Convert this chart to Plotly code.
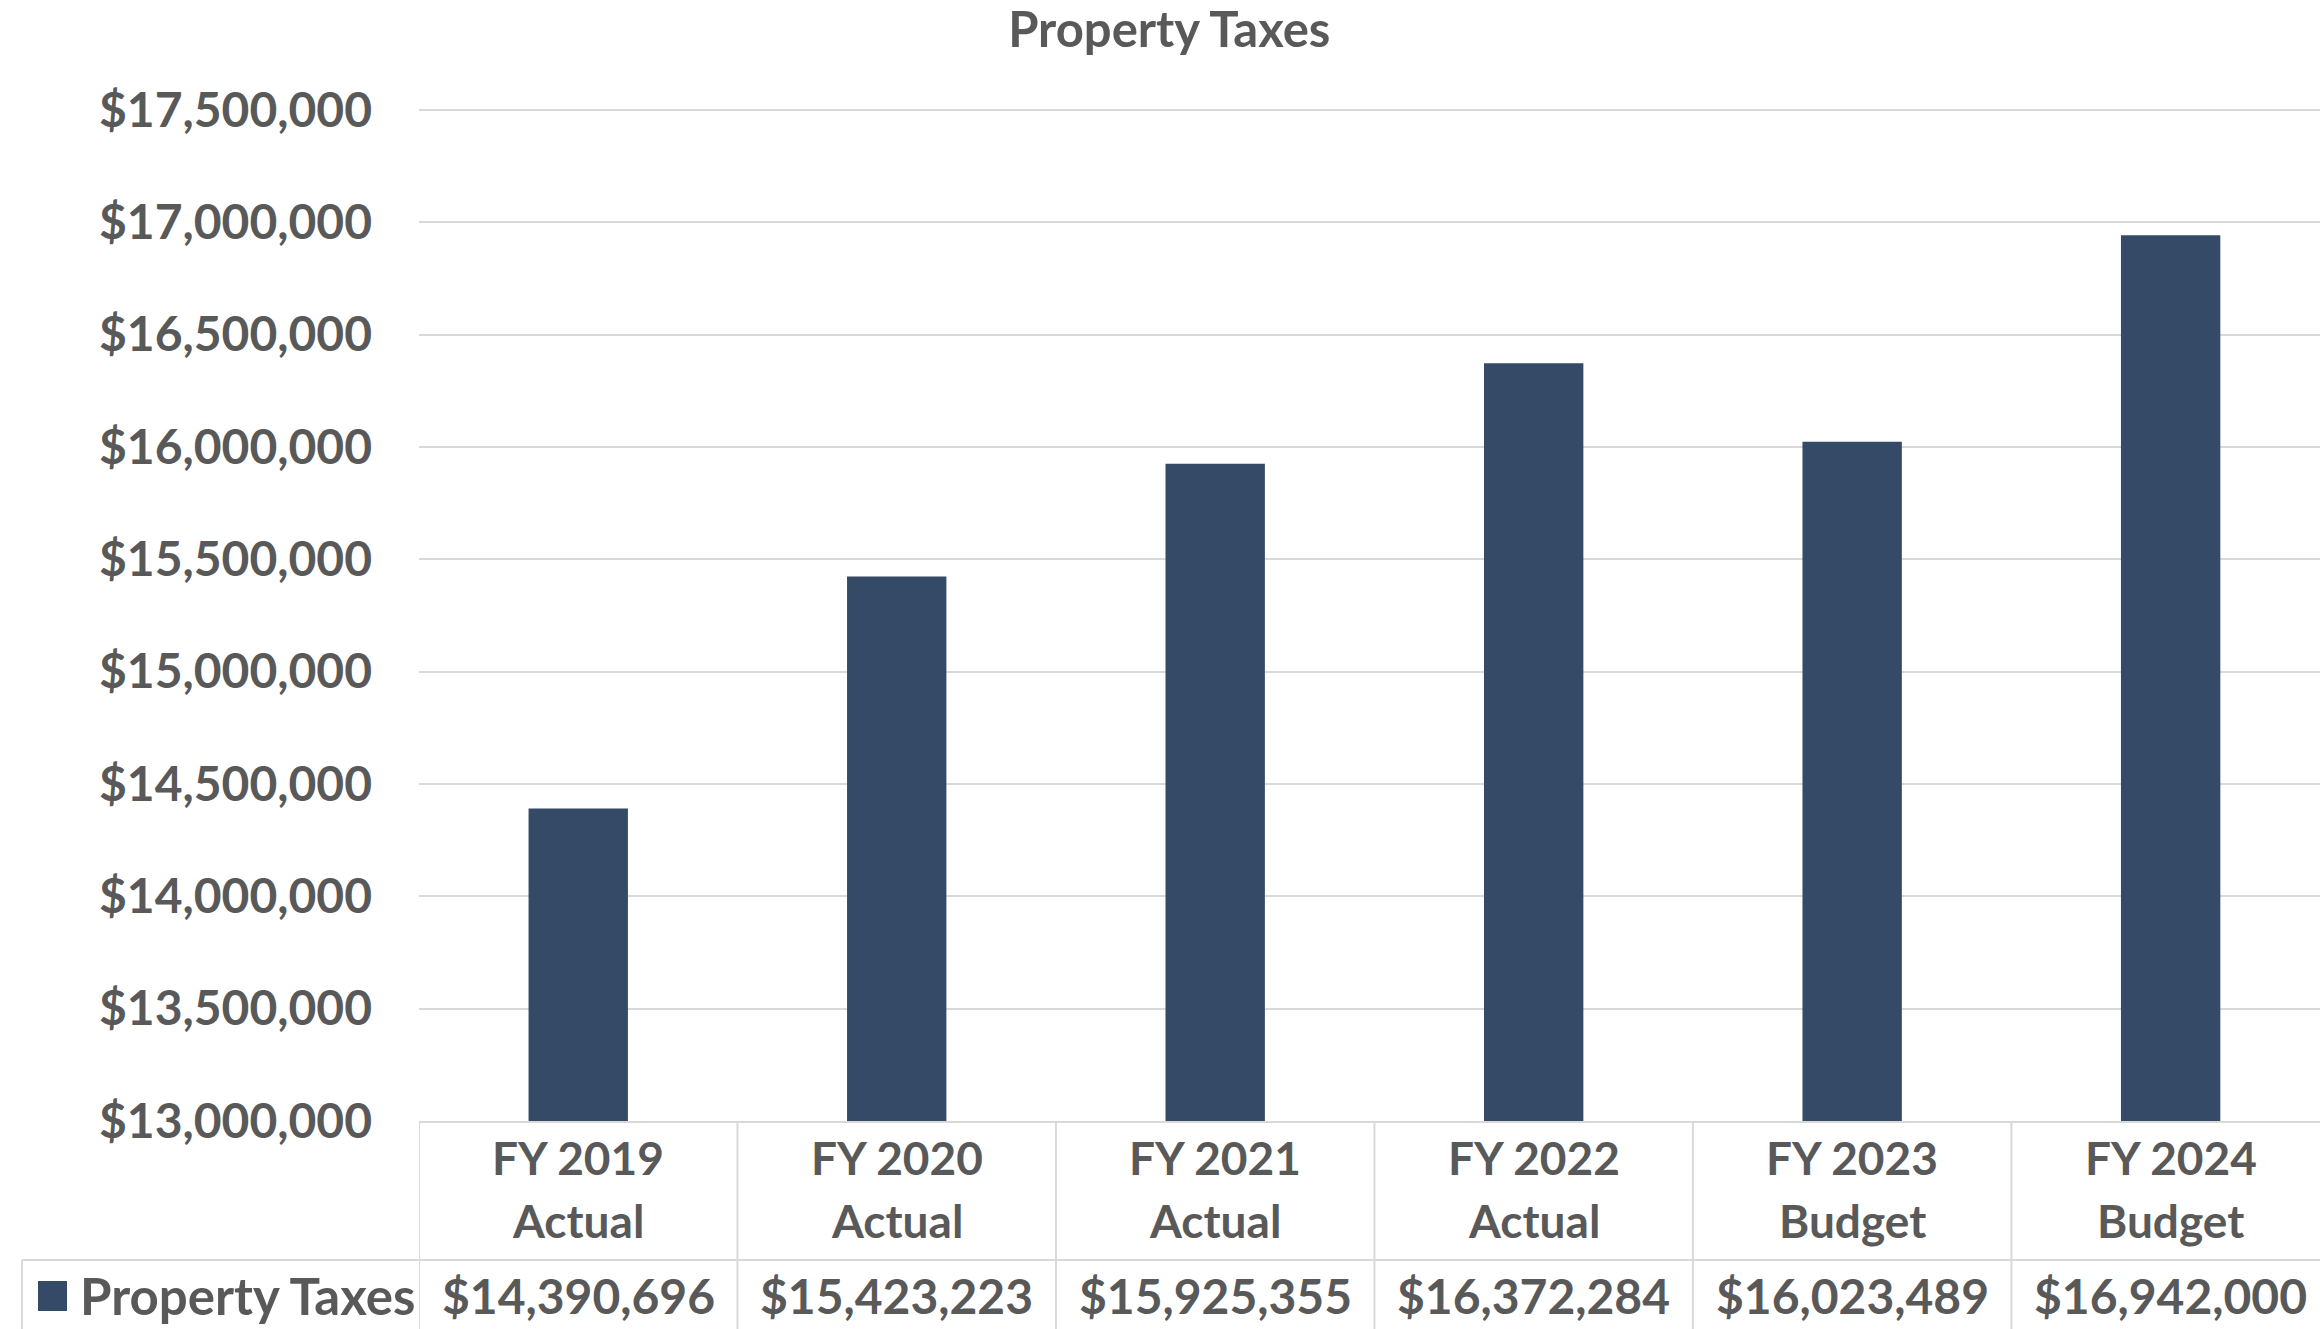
import plotly.graph_objects as go

categories = ["FY 2019<br>Actual", "FY 2020<br>Actual", "FY 2021<br>Actual",
              "FY 2022<br>Actual", "FY 2023<br>Budget", "FY 2024<br>Budget"]
values = [14390696, 15423223, 15925355, 16372284, 16023489, 16942000]
series_name = "Property Taxes"
title = "Property Taxes"
y_ticks = [13000000, 13500000, 14000000, 14500000, 15000000,
           15500000, 16000000, 16500000, 17000000, 17500000]

W, H = 2320, 1329
TXT = "#595959"
BAR = "#344A66"
GRID = "#D9D9D9"
FONT = "Lato"

def py(px):
    return 1 - px / H

x_pos = list(range(len(categories)))

# 13M at px 1121, 17.5M at px 110 -> px per unit
ppu = (1121 - 110) / 4500000
y_top = 17520000
top_px = 1121 - (y_top - 13000000) * ppu

fig = go.Figure()
fig.add_trace(go.Bar(x=x_pos, y=values, width=0.312, marker=dict(color=BAR, line=dict(width=0)),
                     name=series_name, showlegend=False))

fig.update_layout(
    template="none",
    width=W, height=H,
    margin=dict(l=0, r=0, t=0, b=0, pad=0),
    plot_bgcolor="white", paper_bgcolor="white",
    showlegend=False,
    title=dict(text=f"<b>{title}</b>", x=0.504, xanchor="center", y=py(30), yanchor="middle",
               yref="container", xref="paper", font=dict(family=FONT, size=49, color=TXT)),
    xaxis=dict(domain=[419 / W, 1], range=[-0.5, 5.469], showticklabels=False, showgrid=False,
               zeroline=False, showline=True, linecolor=GRID, linewidth=2, ticks="",
               automargin=False),
    yaxis=dict(domain=[py(1121), py(top_px)], range=[13000000, y_top], tickvals=y_ticks,
               ticktext=[f"<b>${v:,.0f}</b>" for v in y_ticks],
               showgrid=True, gridcolor=GRID, gridwidth=2, zeroline=False, showline=False,
               ticks="", ticklabelstandoff=46, automargin=False,
               tickfont=dict(family=FONT, size=48, color=TXT)),
)

shapes = []
# column lines of the data table
for i in range(len(categories)):
    shapes.append(dict(type="line", xref="x", yref="paper", x0=i - 0.5, x1=i - 0.5,
                       y0=0, y1=py(1121), line=dict(color=GRID, width=2)))
# horizontal line between header and value rows
shapes.append(dict(type="line", xref="paper", yref="paper", x0=22 / W, x1=1,
                   y0=py(1260), y1=py(1260), line=dict(color=GRID, width=2)))
# left border of value row
shapes.append(dict(type="line", xref="paper", yref="paper", x0=22 / W, x1=22 / W,
                   y0=0, y1=py(1260), line=dict(color=GRID, width=2)))
# legend key
shapes.append(dict(type="rect", xref="paper", yref="paper", x0=38 / W, x1=67 / W,
                   y0=py(1311), y1=py(1281), fillcolor=BAR, line=dict(width=0)))
fig.update_layout(shapes=shapes)

ann = []
for i, c in enumerate(categories):
    a, b = c.split("<br>")
    ann.append(dict(xref="x", yref="paper", x=i, y=py(1157), text=f"<b>{a}</b>", showarrow=False,
                    xanchor="center", yanchor="middle", font=dict(family=FONT, size=46, color=TXT)))
    ann.append(dict(xref="x", yref="paper", x=i, y=py(1220), text=f"<b>{b}</b>", showarrow=False,
                    xanchor="center", yanchor="middle", font=dict(family=FONT, size=46, color=TXT)))
    ann.append(dict(xref="x", yref="paper", x=i, y=py(1295), text=f"<b>${values[i]:,.0f}</b>",
                    showarrow=False, xanchor="center", yanchor="middle",
                    font=dict(family=FONT, size=48, color=TXT)))
ann.append(dict(xref="paper", yref="paper", x=78 / W, y=py(1295), text=f"<b>{series_name}</b>",
                showarrow=False, xanchor="left", yanchor="middle",
                font=dict(family=FONT, size=51, color=TXT)))
fig.update_layout(annotations=ann)

fig.write_html("out.html", config={"displayModeBar": False},
               post_script="document.body.style.margin='0';document.body.style.overflow='hidden';")
